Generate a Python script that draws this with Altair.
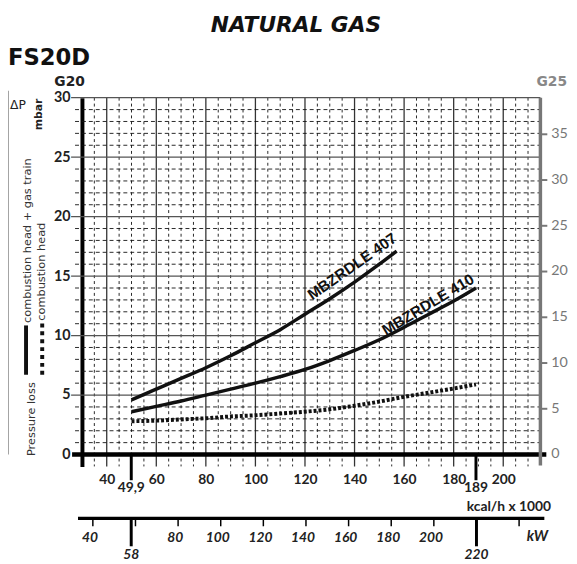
import altair as alt
import pandas as pd

# ---------------- data ----------------
kcal_407 = [50, 60, 70, 80, 90, 100, 110, 120, 130, 140, 150, 157]
dp_407 = [4.6, 5.5, 6.4, 7.3, 8.3, 9.4, 10.5, 11.8, 13.1, 14.5, 16.0, 17.1]

kcal_410 = [50, 60, 70, 80, 90, 100, 110, 120, 130, 140, 150, 160, 170, 180, 189]
dp_410 = [3.6, 4.05, 4.5, 5.0, 5.5, 6.0, 6.55, 7.15, 7.9, 8.75, 9.65, 10.7, 11.8, 12.9, 14.0]

kcal_head = [50, 60, 70, 80, 90, 100, 110, 120, 130, 140, 150, 160, 170, 180, 189]
dp_head = [2.8, 2.85, 2.95, 3.05, 3.2, 3.3, 3.45, 3.6, 3.8, 4.1, 4.45, 4.85, 5.2, 5.55, 5.9]

kcal_ticks = [40, 60, 80, 100, 120, 140, 160, 180, 200]
kw_ticks = [40, 60, 80, 100, 120, 140, 160, 180, 200, 220, 240]
kw_labels = [40, 80, 100, 120, 140, 160, 180, 200]
mbar_ticks = [0, 5, 10, 15, 20, 25, 30]
g25_ticks = [0, 5, 10, 15, 20, 25, 30, 35]

range_kcal = [49.9, 189]
range_kcal_labels = ["49,9", "189"]
range_kw = [58, 220]
range_kw_labels = ["58", "220"]

curve_names = ["MBZRDLE 407", "MBZRDLE 410"]
curve_label_kcal = [139, 169.7]
curve_label_dp = [15.8, 12.6]

# ---------------- geometry / scales ----------------
W, H = 465, 374
X_DOM = [30, 215]
Y_DOM = [-1, 30]
KCAL_PER_KW = 0.86      # 1 kW = 860 kcal/h
G25_FACTOR = 1.3        # G25 pressure / G20 pressure

xs = alt.Scale(domain=X_DOM, nice=False, zero=False)
ys = alt.Scale(domain=Y_DOM, nice=False, zero=False)

x_axis = alt.Axis(values=kcal_ticks, domain=False, ticks=False, grid=False,
                  labelPadding=6, labelFont="Lato", labelFontSize=14,
                  labelFontWeight="bold", labelColor="#222", title=None)
y_axis = alt.Axis(values=mbar_ticks, domain=True, domainColor="black",
                  domainWidth=4, ticks=False, grid=False, labelPadding=12,
                  labelFont="Lato", labelFontSize=14.5, labelFontWeight="bold",
                  labelColor="#222", title=None)


def X(field):
    return alt.X(field, type="quantitative", scale=xs, axis=x_axis)


def Y(field):
    return alt.Y(field, type="quantitative", scale=ys, axis=y_axis)


def label(text, x, y, **kw):
    return alt.Chart(pd.DataFrame({"t": [text]})).mark_text(**kw).encode(
        x=alt.value(x), y=alt.value(y), text="t:N"
    )


def one():
    return alt.Chart(pd.DataFrame({"v": [0]}))


minor_x = [v for v in range(35, 215, 5) if v % 20 != 0]
major_x = kcal_ticks
minor_y = [v for v in range(1, 30) if v % 5 != 0]
major_y = [5, 10, 15, 20, 25, 30]

vminor = alt.Chart(pd.DataFrame({"v": minor_x})).mark_rule(
    color="#111", strokeWidth=0.9, strokeDash=[3, 3]
).encode(x=X("v"), y=alt.value(0), y2=alt.value(H))
vmajor = alt.Chart(pd.DataFrame({"v": major_x})).mark_rule(
    color="#333", strokeWidth=1.3
).encode(x=X("v"), y=alt.value(0), y2=alt.value(H))
hminor = alt.Chart(pd.DataFrame({"v": minor_y})).mark_rule(
    color="#111", strokeWidth=0.9, strokeDash=[4, 3]
).encode(y=Y("v"), x=alt.value(-7), x2=alt.value(W))
hmajor = alt.Chart(pd.DataFrame({"v": major_y})).mark_rule(
    color="#555", strokeWidth=1.3
).encode(y=Y("v"), x=alt.value(-11), x2=alt.value(W))
zero = alt.Chart(pd.DataFrame({"v": [0]})).mark_rule(
    color="black", strokeWidth=4.5
).encode(y=Y("v"), x=alt.value(-10), x2=alt.value(W + 6))

df407 = pd.DataFrame({"kcal": kcal_407, "dp": dp_407})
df410 = pd.DataFrame({"kcal": kcal_410, "dp": dp_410})
dfhead = pd.DataFrame({"kcal": kcal_head, "dp": dp_head})

c407 = alt.Chart(df407).mark_line(color="#111", strokeWidth=3.5, interpolate="monotone").encode(
    x=X("kcal"), y=Y("dp"))
c410 = alt.Chart(df410).mark_line(color="#111", strokeWidth=3.5, interpolate="monotone").encode(
    x=X("kcal"), y=Y("dp"))
chead = alt.Chart(dfhead).mark_line(color="#111", strokeWidth=4, strokeDash=[3, 2],
                                    interpolate="monotone").encode(x=X("kcal"), y=Y("dp"))

lab407 = alt.Chart(pd.DataFrame({"kcal": [curve_label_kcal[0]], "dp": [curve_label_dp[0]],
                                 "t": [curve_names[0]]})).mark_text(
    angle=325, font="Liberation Sans", fontWeight="bold", fontSize=15.5, color="#111"
).encode(x=X("kcal"), y=Y("dp"), text="t:N")
lab410 = alt.Chart(pd.DataFrame({"kcal": [curve_label_kcal[1]], "dp": [curve_label_dp[1]],
                                 "t": [curve_names[1]]})).mark_text(
    angle=329, font="Liberation Sans", fontWeight="bold", fontSize=15.5, color="#111"
).encode(x=X("kcal"), y=Y("dp"), text="t:N")

df_rng = pd.DataFrame({"kcal": range_kcal, "t": range_kcal_labels})
rng_rules = alt.Chart(df_rng).mark_rule(color="black", strokeWidth=3).encode(
    x=X("kcal"), y=alt.value(362), y2=alt.value(388))
rng_text = alt.Chart(df_rng).mark_text(font="Lato", fontSize=14, fontWeight="bold",
                                       color="#222").encode(
    x=X("kcal"), y=alt.value(396), text="t:N")

# ---------------- kW scale (secondary, through the kcal scale) ----------------
KW_Y = 426.7
kw_line = one().mark_rule(color="black", strokeWidth=3.5).encode(
    x=alt.value(-4), x2=alt.value(W + 4), y=alt.value(KW_Y))
kw_tick_rules = alt.Chart(pd.DataFrame({"kw": kw_ticks})).transform_calculate(
    kcal=f"datum.kw * {KCAL_PER_KW}"
).mark_rule(color="black", strokeWidth=1.5).encode(
    x=X("kcal"), y=alt.value(KW_Y), y2=alt.value(KW_Y + 8))
kw_tick_text = alt.Chart(pd.DataFrame({"kw": kw_labels})).transform_calculate(
    kcal=f"datum.kw * {KCAL_PER_KW}"
).mark_text(font="Lato", fontStyle="italic", fontWeight="bold", fontSize=14,
            color="#222", dx=-3).encode(x=X("kcal"), y=alt.value(KW_Y + 20), text="kw:Q")
df_kw = pd.DataFrame({"kw": range_kw, "t": range_kw_labels})
kw_rules = alt.Chart(df_kw).transform_calculate(
    kcal=f"datum.kw * {KCAL_PER_KW}"
).mark_rule(color="black", strokeWidth=3).encode(
    x=X("kcal"), y=alt.value(KW_Y), y2=alt.value(455))
kw_text = alt.Chart(df_kw).transform_calculate(
    kcal=f"datum.kw * {KCAL_PER_KW}"
).mark_text(font="Lato", fontStyle="italic", fontWeight="bold", fontSize=14,
            color="#222").encode(x=X("kcal"), y=alt.value(464), text="t:N")

# ---------------- G25 scale (right, through the mbar scale) ----------------
g25_line = one().mark_rule(color="#777", strokeWidth=3.5).encode(
    x=alt.value(W), y=alt.value(0), y2=alt.value(H - 1))
g25_tick_rules = alt.Chart(pd.DataFrame({"g": g25_ticks})).transform_calculate(
    mbar=f"datum.g / {G25_FACTOR}"
).transform_filter("datum.g > 0").mark_rule(color="#777", strokeWidth=2).encode(
    y=Y("mbar"), x=alt.value(W), x2=alt.value(W + 7))
g25_tick_text = alt.Chart(pd.DataFrame({"g": g25_ticks})).transform_calculate(
    mbar=f"datum.g / {G25_FACTOR}"
).mark_text(font="Lato", fontSize=14.5, color="#777", align="left", baseline="middle").encode(
    y=Y("mbar"), x=alt.value(W + 11), text="g:Q")

# ---------------- decorations / texts ----------------
bracket = one().mark_rule(color="#999", strokeWidth=1.2).encode(
    x=alt.value(-74.7), y=alt.value(-7), y2=alt.value(362))
leg_solid = one().mark_rule(color="#111", strokeWidth=4).encode(
    x=alt.value(-56.7), y=alt.value(231), y2=alt.value(281))
leg_dot = one().mark_rule(color="#111", strokeWidth=4, strokeDash=[4, 4]).encode(
    x=alt.value(-40.3), y=alt.value(229), y2=alt.value(285))

texts = [
    label("NATURAL GAS", 217, -67, font="DejaVu Sans", fontWeight="bold", fontStyle="italic",
          fontSize=22, color="#111", align="center", baseline="alphabetic"),
    label("FS20D", -75, -33.5, font="DejaVu Sans", fontWeight="bold", fontSize=23,
          color="#111", align="left", baseline="alphabetic"),
    label("G20", -28, -11.5, font="DejaVu Sans", fontWeight="bold", fontSize=14,
          color="#222", align="left", baseline="alphabetic"),
    label("G25", 461, -11.5, font="DejaVu Sans", fontWeight="bold", fontSize=14,
          color="#888", align="left", baseline="alphabetic"),
    label("\u0394P", -73, 7, font="DejaVu Sans", fontSize=12.5, color="#222",
          align="left", baseline="middle"),
    label("mbar", -44, 17, font="DejaVu Sans", fontWeight="bold", fontSize=11, angle=270,
          color="#222", align="center", baseline="middle"),
    label("combustion head + gas train", -55, 145, font="DejaVu Sans", fontSize=11.5,
          angle=270, color="#333", align="center", baseline="middle"),
    label("Pressure loss", -51, 326, font="DejaVu Sans", fontSize=11.5, angle=270,
          color="#333", align="center", baseline="middle"),
    label("combustion head", -40, 176.5, font="DejaVu Sans", fontSize=11.5, angle=270,
          color="#333", align="center", baseline="middle"),
    label("kcal/h x 1000", 433, 415.5, font="Lato", fontSize=14, fontWeight="bold",
          color="#222", align="center", baseline="middle"),
    label("kW", 462, 445, font="Lato", fontSize=15, fontStyle="italic", fontWeight="bold",
          color="#222", align="center", baseline="middle"),
]

chart = alt.layer(
    vminor, vmajor, hminor, hmajor, c407, c410, chead, zero,
    rng_rules, rng_text, lab407, lab410,
    kw_line, kw_tick_rules, kw_tick_text, kw_rules, kw_text,
    g25_line, g25_tick_rules, g25_tick_text,
    bracket, leg_solid, leg_dot, *texts
).properties(
    width=W, height=H,
    padding={"left": 75, "top": 87, "right": 29, "bottom": 95},
    autosize=alt.AutoSizeParams(type="none"),
    background="white",
).configure_view(stroke=None)

chart.save("out.html", embed_options={"renderer": "svg", "actions": False})
